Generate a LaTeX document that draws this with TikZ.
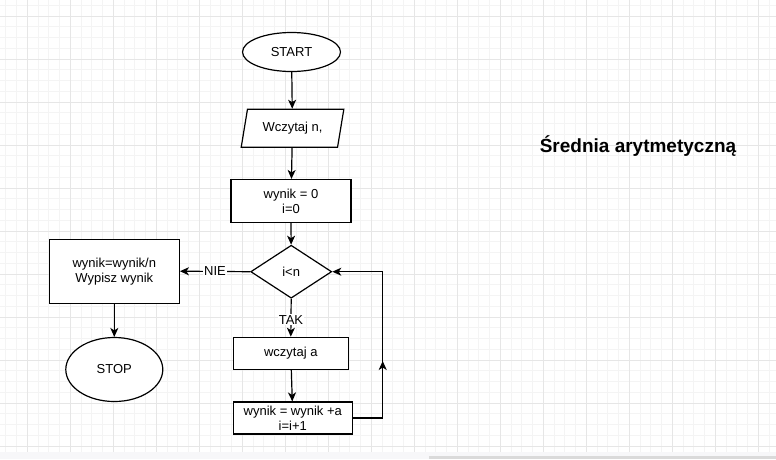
\documentclass[tikz,border=0pt]{standalone}
\usepackage{fontspec}
\setmainfont{Liberation Sans}
\usetikzlibrary{shapes.geometric,arrows.meta}

\definecolor{gridminor}{HTML}{F4F4F4}
\definecolor{gridmajor}{HTML}{E6E6E6}
\definecolor{band}{HTML}{F7F7F9}
\definecolor{scroll}{HTML}{DADADA}

\tikzset{
    box/.style={draw, line width=1.2pt, fill=white, inner sep=0pt, align=center,
        font=\fontsize{13}{15}\selectfont},
    term/.style={box, ellipse},
    io/.style={box, trapezium, trapezium left angle=71, trapezium right angle=109,
        trapezium stretches=true},
    cond/.style={box, diamond},
    arr/.style={line width=1.2pt, -{Stealth[length=9pt,width=8pt,inset=2.5pt]}},
    lbl/.style={fill=white, inner sep=1pt, font=\fontsize{13}{15}\selectfont}
}

\begin{document}
\begin{tikzpicture}[x=1pt,y=-1pt]
    \useasboundingbox (0,0) rectangle (776,459);
    % background grid
    \foreach \i in {0,...,71}
        \draw[gridminor, line width=0.8pt] ({5.8+10.75*\i},0) -- ({5.8+10.75*\i},452);
    \foreach \i in {0,...,42}
        \draw[gridminor, line width=0.8pt] (0,{5.25+10.75*\i}) -- (776,{5.25+10.75*\i});
    \foreach \i in {0,...,17}
        \draw[gridmajor, line width=0.8pt] ({27.3+43*\i},0) -- ({27.3+43*\i},452);
    \foreach \i in {0,...,10}
        \draw[gridmajor, line width=0.8pt] (0,{16+43*\i}) -- (776,{16+43*\i});
    \fill[band] (0,452) rectangle (776,459);
    \fill[scroll] (429,455.5) rectangle (776,459);

    % title
    \node (title) at (638,146)
            {\fontsize{19}{22}\selectfont\bfseries Średnia arytmetyczną};

    % flowchart
    \node[term, minimum width=98pt, minimum height=39pt] (start) at (291.5,52)
            {START};
    \node[io, minimum width=103pt, minimum height=38pt] (in) at (292.5,128.3)
            {Wczytaj n,};
    \node[box, minimum width=120pt, minimum height=43pt] (init) at (291,201)
            {wynik = 0\\i=0};
    \node[cond, minimum width=81pt, minimum height=53pt] (test) at (291.2,271.7)
            {i<n};
    \node[box, minimum width=130pt, minimum height=64pt] (out) at (114.3,271.2)
            {wynik=wynik/n\\Wypisz wynik};
    \node[term, minimum width=97pt, minimum height=64pt] (stop) at (114.3,369.5)
            {STOP};
    \node[box, minimum width=115pt, minimum height=32pt] (rd) at (290.8,353.3)
            {wczytaj a};
    \node[box, minimum width=119pt, minimum height=32pt] (sum) at (292.8,418)
            {wynik = wynik +a\\i=i+1};

    \coordinate (c1) at (382.7,418);
    \coordinate (cm) at (382.7,361);
    \coordinate (c2) at (382.7,271.7);

    \draw[arr] (start) -- (in);
    \draw[arr] (in) -- (init);
    \draw[arr] (init) -- (test);
    \draw[arr] (test.west) -- node[lbl] {NIE} (out.east);
    \draw[arr] (out) -- (stop);
    \draw[arr] (test.south) -- node[lbl, pos=0.55] {TAK} (rd.north);
    \draw[arr] (rd) -- (sum);
    \draw[arr] (sum.east) -- (c1) -- (c2) -- (test.east);
    \draw[arr] (c1) -- (cm);
\end{tikzpicture}
\end{document}
